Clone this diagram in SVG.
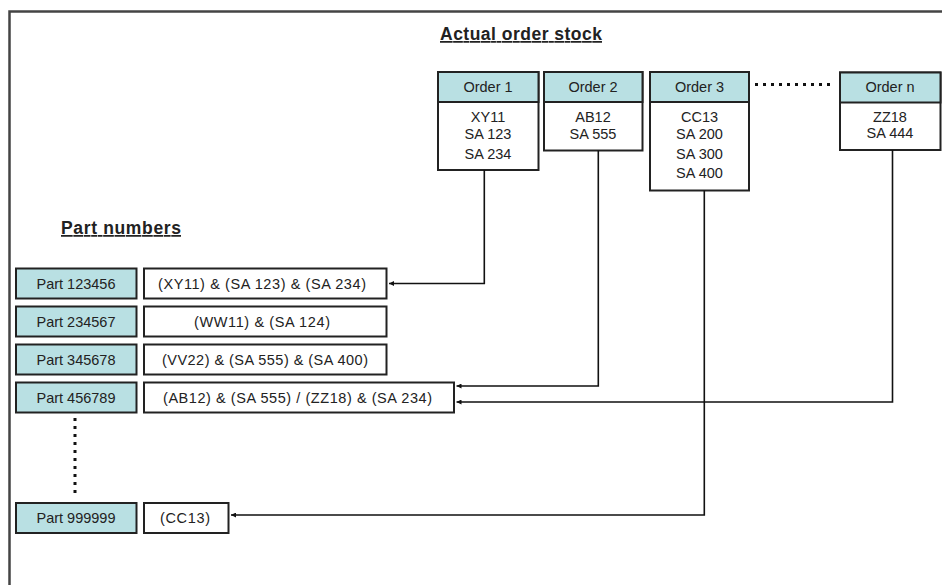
<svg xmlns="http://www.w3.org/2000/svg" width="942" height="585" viewBox="0 0 942 585">
<style>
text{font-family:"Liberation Sans",Arial,sans-serif;fill:#222;}
.t{font-size:14.5px;text-anchor:middle;}
.title{font-size:17.5px;font-weight:bold;text-decoration:underline;}
.hdr{fill:#b9e0e3;stroke:#222;stroke-width:2;}
.box{fill:#fff;stroke:#222;stroke-width:2;}
.con{fill:none;stroke:#111;stroke-width:1.6;}
.dots{fill:none;stroke:#111;stroke-width:3;stroke-dasharray:3 5;}
</style>
<defs>
<marker id="arr" viewBox="0 0 8 8" refX="8" refY="4" markerWidth="5" markerHeight="5" orient="auto" markerUnits="userSpaceOnUse">
<path d="M0,0 L8,4 L0,8 z" fill="#111"/>
</marker>
</defs>
<rect width="942" height="585" fill="#fff"/>
<path d="M9.5,585 V11.5 H942" fill="none" stroke="#444" stroke-width="2.5"/>
<text class="title" x="440" y="40" textLength="162">Actual order stock</text>
<text class="title" x="61" y="234" textLength="120">Part numbers</text>

<g id="order1">
<rect class="box" x="438" y="72" width="100.5" height="98"/>
<rect class="hdr" x="438" y="72" width="100.5" height="30"/>
<text class="t" x="488" y="92">Order 1</text>
<text class="t" x="488" y="121.5">XY11</text>
<text class="t" x="488" y="139">SA 123</text>
<text class="t" x="488" y="158.5">SA 234</text>
</g>
<g id="order2">
<rect class="box" x="544" y="72" width="98.5" height="78.5"/>
<rect class="hdr" x="544" y="72" width="98.5" height="30"/>
<text class="t" x="593" y="92">Order 2</text>
<text class="t" x="593" y="121.5">AB12</text>
<text class="t" x="593" y="138.5">SA 555</text>
</g>
<g id="order3">
<rect class="box" x="650" y="72" width="99" height="118.5"/>
<rect class="hdr" x="650" y="72" width="99" height="30"/>
<text class="t" x="699.5" y="92">Order 3</text>
<text class="t" x="699.5" y="121.5">CC13</text>
<text class="t" x="699.5" y="139">SA 200</text>
<text class="t" x="699.5" y="158.5">SA 300</text>
<text class="t" x="699.5" y="178">SA 400</text>
</g>
<g id="ordern">
<rect class="box" x="840" y="72.5" width="100.5" height="77.5"/>
<rect class="hdr" x="840" y="72.5" width="100.5" height="30"/>
<text class="t" x="890" y="92">Order n</text>
<text class="t" x="890" y="121.5">ZZ18</text>
<text class="t" x="890" y="137.5">SA 444</text>
</g>
<g id="order-dots"><path class="dots" d="M755,84.5 H834"/></g>

<g id="part123456">
<rect class="hdr" x="16" y="268.5" width="120.5" height="30"/>
<text class="t" x="76" y="288.5" textLength="79">Part 123456</text>
<rect class="box" x="144" y="268.5" width="242.5" height="30"/>
<text class="t" x="262" y="288.5" textLength="208">(XY11) &amp; (SA 123)  &amp; (SA 234)</text>
</g>
<g id="part234567">
<rect class="hdr" x="16" y="306.5" width="120.5" height="30"/>
<text class="t" x="76" y="326.5" textLength="79">Part 234567</text>
<rect class="box" x="144" y="306.5" width="242.5" height="30"/>
<text class="t" x="262" y="326.5" textLength="136">(WW11) &amp; (SA 124)</text>
</g>
<g id="part345678">
<rect class="hdr" x="16" y="344.5" width="120.5" height="30"/>
<text class="t" x="76" y="364.5" textLength="79">Part 345678</text>
<rect class="box" x="144" y="344.5" width="242.5" height="30"/>
<text class="t" x="265" y="364.5" textLength="206">(VV22) &amp; (SA 555)  &amp; (SA 400)</text>
</g>
<g id="part456789">
<rect class="hdr" x="16" y="382.5" width="120.5" height="30"/>
<text class="t" x="76" y="402.5" textLength="79">Part 456789</text>
<rect class="box" x="144" y="382.5" width="310" height="30"/>
<text class="t" x="297.5" y="402.5" textLength="269">(AB12) &amp; (SA 555) / (ZZ18) &amp; (SA 234)</text>
</g>
<g id="part-dots"><path class="dots" d="M75,418 V493"/></g>
<g id="part999999">
<rect class="hdr" x="16" y="503" width="120.5" height="30"/>
<text class="t" x="76" y="523" textLength="79">Part 999999</text>
<rect class="box" x="144" y="503" width="84.5" height="30"/>
<text class="t" x="185" y="523" textLength="50">(CC13)</text>
</g>

<g id="connectors">
<path class="con" marker-end="url(#arr)" d="M484.3,170 V283.5 H389"/>
<path class="con" marker-end="url(#arr)" d="M598.3,150.5 V386 H456.5"/>
<path class="con" marker-end="url(#arr)" d="M704.3,190.5 V515 H231"/>
<path class="con" marker-end="url(#arr)" d="M892.5,150 V402 H456.5"/>
</g>
</svg>
